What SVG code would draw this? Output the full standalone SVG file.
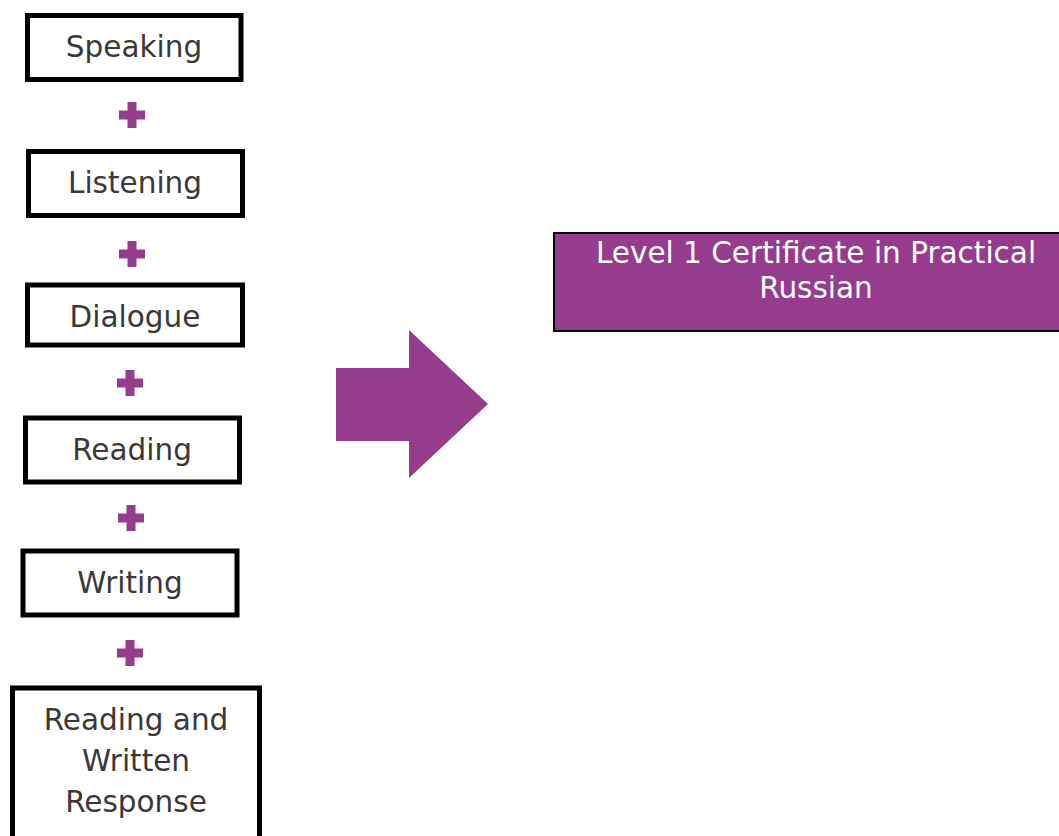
<svg xmlns="http://www.w3.org/2000/svg" width="1059" height="836" viewBox="0 0 1059 836">
<style>
.box{fill:#ffffff;stroke:#000000;stroke-width:5}
.lbl{font-family:"DejaVu Sans",Verdana,sans-serif;font-size:29.5px;fill:#3b3838;text-anchor:middle}
.plus{fill:#963c8c}
.out{fill:#963c8c;stroke:#000000;stroke-width:2}
.outlbl{font-family:"DejaVu Sans",Verdana,sans-serif;font-size:29.5px;fill:#ffffff;text-anchor:middle}
</style>
<defs>
<path id="plus" d="M-4.5,-13 H4.5 V-4.5 H13 V4.5 H4.5 V13 H-4.5 V4.5 H-13 V-4.5 H-4.5 Z"/>
</defs>
<rect width="1059" height="836" fill="#ffffff"/>
<g id="speaking"><rect class="box" x="27.5" y="15.5" width="213.5" height="64"/><text class="lbl" x="134" y="57">Speaking</text></g>
<g id="listening"><rect class="box" x="28.5" y="151.5" width="214" height="64"/><text class="lbl" x="135" y="193">Listening</text></g>
<g id="dialogue"><rect class="box" x="27.5" y="285" width="215" height="60"/><text class="lbl" x="135" y="327">Dialogue</text></g>
<g id="reading"><rect class="box" x="25.5" y="418" width="214" height="64"/><text class="lbl" x="132" y="460">Reading</text></g>
<g id="writing"><rect class="box" x="23" y="551" width="214" height="64"/><text class="lbl" x="130" y="593">Writing</text></g>
<g id="reading-written"><rect class="box" x="12.5" y="688" width="247" height="160"/><text class="lbl" x="136" y="730">Reading and</text><text class="lbl" x="136" y="771">Written</text><text class="lbl" x="136" y="812">Response</text></g>
<g id="connectors">
<use href="#plus" class="plus" x="132" y="115"/>
<use href="#plus" class="plus" x="132" y="254"/>
<use href="#plus" class="plus" x="130" y="383"/>
<use href="#plus" class="plus" x="131" y="518"/>
<use href="#plus" class="plus" x="130" y="653"/>
<polygon class="plus" points="336,368 409,368 409,330 488,404 409,478 409,441 336,441"/>
</g>
<g id="certificate"><rect class="out" x="554" y="233" width="510" height="98"/><text class="outlbl" x="816" y="263">Level 1 Certificate in Practical</text><text class="outlbl" x="816" y="298">Russian</text></g>
</svg>
